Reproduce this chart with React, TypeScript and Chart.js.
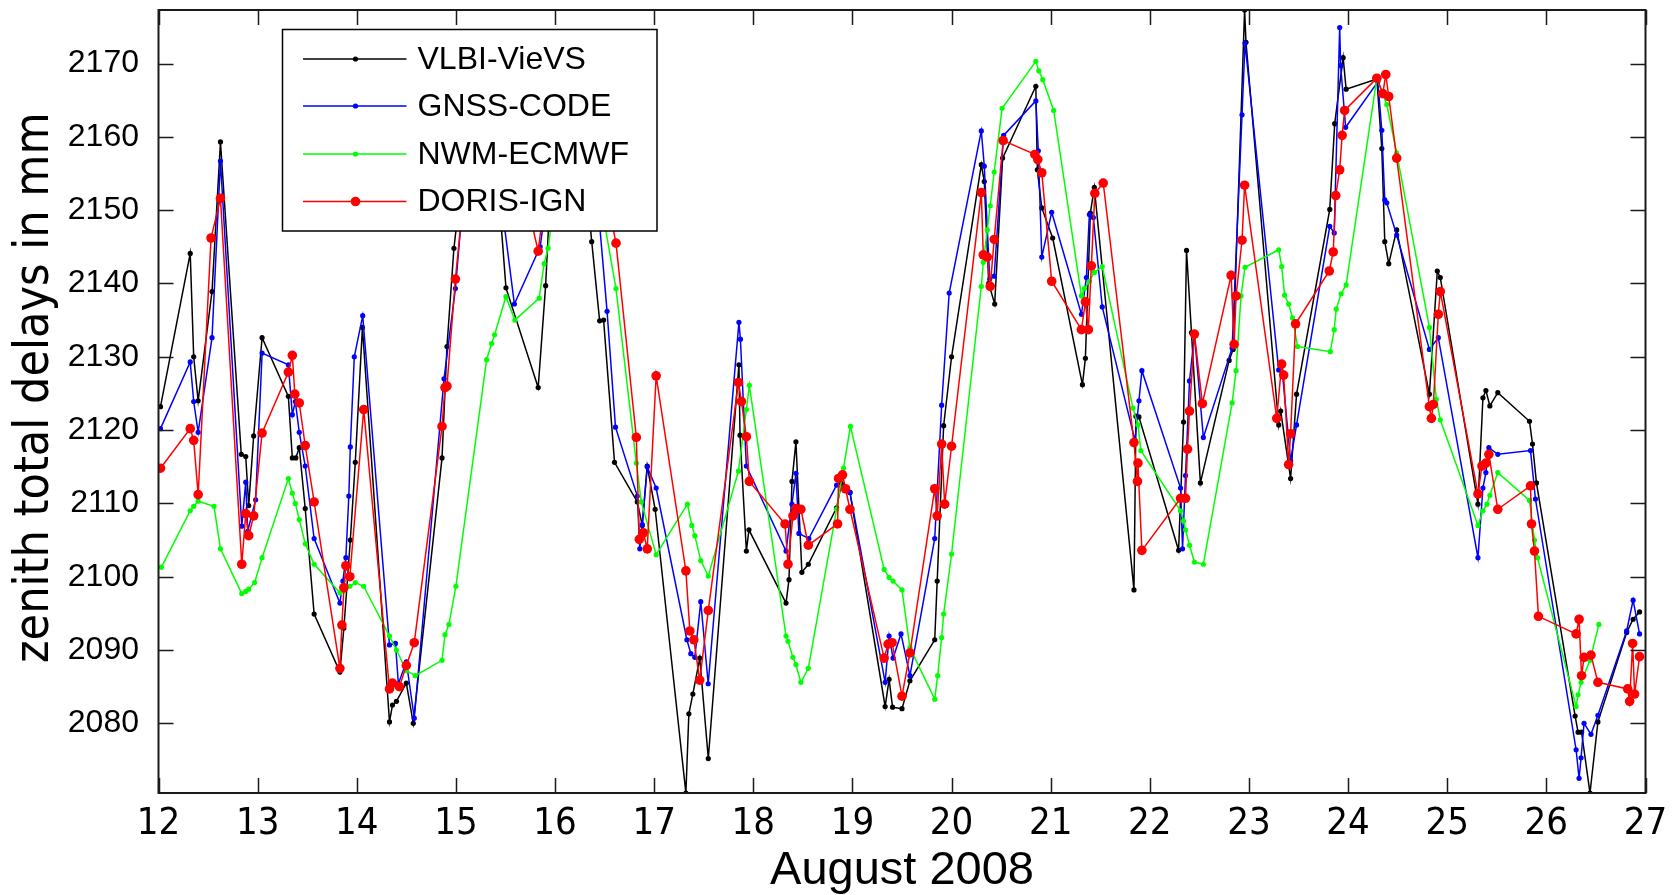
import { useEffect, useRef } from 'react';
import { Chart, registerables } from 'chart.js';

Chart.register(...registerables);

// ---------- data ----------
const xTickValues = [12, 13, 14, 15, 16, 17, 18, 19, 20, 21, 22, 23, 24, 25, 26, 27];
const yTickValues = [2080, 2090, 2100, 2110, 2120, 2130, 2140, 2150, 2160, 2170];
const xTitle = 'August 2008';
const yTitle = 'zenith total delays in mm';
const seriesNames = ['VLBI-VieVS', 'GNSS-CODE', 'NWM-ECMWF', 'DORIS-IGN'];

const vlbiDays = [12.02, 12.32, 12.355, 12.4, 12.54, 12.625, 12.835, 12.88, 12.91, 12.96, 13.045, 13.31, 13.35, 13.385, 13.42, 13.48, 13.57, 13.83, 13.87, 13.935, 13.985, 14.057, 14.33, 14.36, 14.4, 14.5, 14.57, 14.86, 14.91, 14.98, 15.05, 15.2, 15.4, 15.505, 15.83, 15.905, 15.95, 16.1, 16.3, 16.37, 16.45, 16.49, 16.6, 16.83, 16.88, 16.93, 17.01, 17.32, 17.35, 17.39, 17.46, 17.546, 17.855, 17.866, 17.93, 17.956, 18.33, 18.36, 18.39, 18.43, 18.49, 18.555, 18.84, 18.89, 18.975, 19.33, 19.37, 19.405, 19.5, 19.58, 19.83, 19.855, 19.92, 20.0, 20.3, 20.33, 20.375, 20.435, 20.515, 20.85, 20.865, 20.91, 21.02, 21.32, 21.35, 21.4, 21.44, 21.84, 21.86, 21.89, 22.29, 22.34, 22.37, 22.42, 22.51, 22.8, 22.84, 22.956, 22.97, 23.3, 23.32, 23.42, 23.48, 23.815, 23.865, 23.95, 23.98, 24.29, 24.34, 24.37, 24.41, 24.49, 24.82, 24.9, 24.93, 25.31, 25.36, 25.39, 25.43, 25.51, 25.83, 25.86, 25.9, 26.29, 26.32, 26.355, 26.44, 26.52, 26.81, 26.875, 26.94];
const vlbiZtd = [2123.2, 2144.1, 2130, 2124, 2138.9, 2159.3, 2116.7, 2116.4, 2109.7, 2119.2, 2132.6, 2124.6, 2116.2, 2116.2, 2117.6, 2109.3, 2094.9, 2087.0, 2093, 2105, 2115.6, 2134, 2080.2, 2082.5, 2083, 2085.5, 2080.0, 2116.2, 2131.4, 2144.8, 2153, 2162, 2158, 2139.4, 2125.8, 2139.7, 2152, 2163, 2156, 2145.7, 2134.9, 2135, 2115.6, 2110.2, 2107, 2115.1, 2109.2, 2070.5, 2081.3, 2084, 2088.9, 2075.2, 2128.9, 2119.3, 2103.5, 2106.4, 2096.4, 2099.6, 2113, 2118.4, 2100.6, 2101.7, 2109.4, 2112.7, 2111.5, 2082.3, 2086, 2082.2, 2082, 2085.8, 2091.4, 2099.4, 2120.6, 2130, 2156.2, 2153.9, 2140, 2137.2, 2157.1, 2166.9, 2155.5, 2150.3, 2146.2, 2126.2, 2129.8, 2149.6, 2153.1, 2098.2, 2121.9, 2121.8, 2103.6, 2121.1, 2144.5, 2133.3, 2112.8, 2129.5, 2131, 2177.3, 2172.9, 2120.7, 2122.6, 2113.4, 2124.9, 2150.1, 2161.8, 2170.8, 2166.5, 2167.9, 2158.4, 2145.7, 2142.7, 2147.3, 2124.9, 2141.7, 2140.8, 2109.9, 2124.4, 2125.4, 2123.3, 2125.1, 2121.2, 2118.1, 2112.8, 2081, 2078.8, 2078.8, 2070.5, 2080.2, 2092.4, 2094.2, 2095.2];

const gnssDays = [12.02, 12.32, 12.355, 12.4, 12.54, 12.625, 12.84, 12.88, 12.9, 12.98, 13.045, 13.31, 13.35, 13.38, 13.42, 13.48, 13.57, 13.83, 13.86, 13.89, 13.92, 13.935, 13.975, 14.06, 14.33, 14.39, 14.42, 14.5, 14.58, 14.88, 14.995, 15.1, 15.3, 15.45, 15.59, 15.85, 15.92, 16.1, 16.35, 16.45, 16.525, 16.61, 16.83, 16.855, 16.88, 16.93, 17.02, 17.33, 17.37, 17.41, 17.47, 17.545, 17.855, 17.87, 17.93, 18.33, 18.39, 18.43, 18.46, 18.56, 18.84, 18.975, 19.33, 19.37, 19.41, 19.49, 19.58, 19.83, 19.9, 19.976, 20.3, 20.33, 20.385, 20.43, 20.525, 20.85, 20.875, 20.91, 21.01, 21.31, 21.36, 21.39, 21.43, 21.52, 21.85, 21.89, 21.92, 22.31, 22.33, 22.36, 22.4, 22.45, 22.54, 22.83, 22.93, 22.96, 23.3, 23.34, 23.42, 23.48, 23.815, 23.86, 23.915, 23.925, 23.975, 24.3, 24.34, 24.37, 24.39, 24.49, 24.82, 24.91, 25.31, 25.36, 25.39, 25.42, 25.51, 25.84, 25.89, 26.3, 26.33, 26.35, 26.38, 26.45, 26.52, 26.81, 26.875, 26.94];
const gnssZtd = [2120.2, 2129.3, 2123.9, 2119.7, 2132.6, 2156.7, 2106.9, 2112.9, 2106.2, 2110.5, 2130.5, 2128.9, 2122.1, 2123.9, 2119.7, 2115.1, 2105.2, 2096.4, 2099.4, 2102.6, 2111, 2117.7, 2130, 2135.6, 2090.7, 2090.9, 2085.4, 2088.4, 2080.7, 2127, 2139.3, 2156, 2160, 2152, 2137.2, 2145, 2152, 2160, 2155, 2148, 2136.2, 2120.4, 2111, 2103.8, 2107.1, 2115, 2112.1, 2091.4, 2089.5, 2089, 2096.6, 2085.4, 2134.7, 2132.4, 2115.1, 2103.5, 2109.9, 2114.1, 2105.9, 2105.2, 2112.5, 2111.5, 2085.6, 2091.9, 2088.9, 2092.2, 2086.5, 2105.2, 2123.4, 2138.7, 2160.8, 2156, 2140.6, 2141, 2160.2, 2164.9, 2158.1, 2143.6, 2149.7, 2135.8, 2140.8, 2149.4, 2149, 2136.8, 2118.6, 2124, 2128.1, 2112.1, 2103.8, 2113.8, 2126.7, 2133, 2119, 2131.2, 2163, 2172.8, 2128.2, 2127.4, 2115.8, 2120.7, 2147.8, 2146.9, 2174.9, 2169.7, 2161.3, 2167.5, 2160.9, 2151.4, 2151, 2146.6, 2131, 2132.6, 2102.6, 2112.1, 2114.2, 2117.6, 2116.7, 2117.2, 2110.6, 2076.4, 2072.5, 2075.3, 2080, 2078.5, 2081.1, 2092.6, 2096.8, 2092.2];

const nwmDays = [12.03, 12.32, 12.355, 12.4, 12.56, 12.625, 12.84, 12.88, 12.91, 12.97, 13.045, 13.31, 13.35, 13.38, 13.42, 13.48, 13.57, 13.83, 13.87, 13.93, 13.985, 14.07, 14.33, 14.4, 14.5, 14.59, 14.86, 14.89, 14.93, 15.0, 15.31, 15.36, 15.39, 15.505, 15.595, 15.84, 15.89, 15.93, 16.0, 16.2, 16.45, 16.615, 16.82, 16.87, 17.02, 17.335, 17.38, 17.41, 17.47, 17.546, 17.85, 17.93, 17.96, 18.33, 18.35, 18.4, 18.43, 18.48, 18.555, 18.84, 18.91, 18.98, 19.32, 19.37, 19.41, 19.5, 19.58, 19.83, 19.86, 19.9, 19.92, 20.0, 20.3, 20.32, 20.36, 20.39, 20.43, 20.51, 20.85, 20.88, 20.92, 21.03, 21.31, 21.34, 21.39, 21.44, 21.52, 21.83, 21.88, 21.91, 22.31, 22.34, 22.36, 22.4, 22.45, 22.54, 22.83, 22.87, 22.92, 22.96, 23.3, 23.33, 23.36, 23.4, 23.44, 23.49, 23.82, 23.86, 23.88, 23.93, 23.98, 24.29, 24.39, 24.49, 24.82, 24.89, 24.93, 25.31, 25.36, 25.4, 25.43, 25.51, 25.83, 25.88, 25.91, 26.3, 26.32, 26.35, 26.44, 26.53];
const nwmZtd = [2101.3, 2109, 2109.6, 2110.3, 2109.6, 2103.8, 2097.7, 2098, 2098.3, 2099.2, 2102.6, 2113.4, 2111.4, 2110, 2107.8, 2104.5, 2101.7, 2097.8, 2098.1, 2098.7, 2099.2, 2098.7, 2091.9, 2090, 2087.2, 2086.5, 2088.6, 2092.1, 2093.5, 2098.7, 2129.6, 2131.8, 2133, 2138.2, 2135, 2138, 2142.7, 2144.8, 2152, 2158, 2152, 2139.3, 2115.5, 2110.2, 2103, 2109.9, 2107, 2105.6, 2102.2, 2100.1, 2114.4, 2122.8, 2126.1, 2091.9, 2091.2, 2089, 2088, 2085.6, 2087.5, 2109.2, 2114.8, 2120.5, 2101, 2099.9, 2099.4, 2098.2, 2090.3, 2083.3, 2086.5, 2091.7, 2094.9, 2103.1, 2139.6, 2142.9, 2147.3, 2150.6, 2155.2, 2163.9, 2170.3, 2169, 2167.8, 2163.6, 2138.3, 2139.3, 2140.3, 2141.5, 2142.3, 2123, 2120.7, 2117.2, 2109, 2107.6, 2106.4, 2104.3, 2102, 2101.7, 2123.7, 2128.1, 2138.3, 2142.2, 2144.6, 2142.3, 2138.4, 2137.2, 2135.3, 2131.4, 2130.7, 2133.7, 2136.5, 2138.6, 2139.8, 2168, 2164.4, 2157.8, 2134, 2124.2, 2121.4, 2107, 2109, 2109.9, 2111.1, 2114.2, 2110.4, 2105, 2102.6, 2082.3, 2083.9, 2085.6, 2088.6, 2093.5];

const dorisDays = [12.02, 12.32, 12.355, 12.4, 12.53, 12.625, 12.84, 12.88, 12.91, 12.96, 13.045, 13.31, 13.35, 13.375, 13.42, 13.48, 13.57, 13.83, 13.85, 13.87, 13.89, 13.93, 14.07, 14.33, 14.36, 14.43, 14.5, 14.58, 14.86, 14.89, 14.91, 14.995, 15.1, 15.3, 15.6, 15.83, 15.9, 16.1, 16.4, 16.615, 16.82, 16.85, 16.89, 16.93, 17.02, 17.32, 17.36, 17.4, 17.46, 17.546, 17.85, 17.88, 17.93, 17.96, 18.32, 18.35, 18.4, 18.43, 18.48, 18.555, 18.85, 18.86, 18.9, 18.93, 18.975, 19.32, 19.36, 19.4, 19.5, 19.58, 19.83, 19.855, 19.9, 19.93, 20.0, 20.3, 20.32, 20.36, 20.39, 20.43, 20.52, 20.84, 20.87, 20.91, 21.01, 21.31, 21.35, 21.38, 21.41, 21.445, 21.53, 21.84, 21.875, 21.88, 21.92, 22.31, 22.36, 22.38, 22.4, 22.45, 22.53, 22.82, 22.85, 22.87, 22.93, 22.956, 23.28, 23.33, 23.35, 23.4, 23.42, 23.47, 23.81, 23.85, 23.875, 23.915, 23.94, 23.965, 24.29, 24.35, 24.38, 24.41, 24.49, 24.82, 24.84, 24.86, 24.91, 24.93, 25.31, 25.35, 25.39, 25.42, 25.51, 25.84, 25.85, 25.88, 25.92, 26.3, 26.33, 26.355, 26.38, 26.45, 26.52, 26.82, 26.84, 26.87, 26.89, 26.94];
const dorisZtd = [2114.8, 2120.2, 2118.6, 2111.2, 2146.2, 2151.6, 2101.7, 2108.6, 2105.6, 2108.3, 2119.6, 2127.9, 2130.2, 2124.9, 2123.7, 2117.9, 2110.2, 2087.5, 2093.4, 2098.5, 2101.5, 2100, 2122.8, 2084.7, 2085.5, 2085, 2087.9, 2091, 2120.5, 2125.8, 2126, 2140.6, 2155, 2162, 2158, 2144.4, 2152, 2162, 2160, 2145.5, 2119, 2105.1, 2106, 2103.8, 2127.4, 2100.8, 2092.6, 2091.4, 2085.9, 2095.4, 2126.5, 2123.9, 2119.1, 2113, 2107.2, 2101.7, 2108.3, 2109.3, 2109.2, 2104.3, 2107.2, 2113.4, 2113.9, 2112, 2109.2, 2088.9, 2090.8, 2091, 2083.7, 2089.6, 2112, 2108.3, 2118.1, 2109.9, 2117.8, 2152.4, 2143.9, 2143.6, 2139.6, 2146, 2159.5, 2157.6, 2156.9, 2155.1, 2140.3, 2133.7, 2137.5, 2133.7, 2142.4, 2152.3, 2153.7, 2118.3, 2113, 2115.5, 2103.6, 2110.7, 2110.7, 2117.4, 2122.6, 2133.1, 2123.6, 2141.1, 2131.7, 2138.3, 2145.9, 2153.4, 2121.6, 2129, 2127.5, 2115.3, 2119.5, 2134.5, 2141.7, 2144.3, 2152, 2155.5, 2160.2, 2163.6, 2168, 2165.9, 2168.5, 2165.5, 2157.1, 2123.2, 2121.6, 2123.5, 2135.8, 2138.9, 2111.3, 2115.1, 2115.5, 2116.7, 2109.2, 2112.4, 2107.2, 2103.5, 2094.6, 2092.2, 2094.2, 2086.5, 2089, 2089.3, 2085.6, 2084.7, 2083, 2090.9, 2084, 2089.1];

// ---------- styles ----------
const seriesColors = ['#000000', '#0000ff', '#00ff00', '#ff0000'];
const seriesPointRadius = [2.6, 2.6, 2.6, 4.8];
const FONT = "'Liberation Sans', Arial, Helvetica, sans-serif";
const NARROW = "'Liberation Sans Narrow', 'Arial Narrow', 'DejaVu Sans Condensed', 'Liberation Sans', sans-serif";

const toPoints = (days: number[], vals: number[]) => days.map((d, i) => ({ x: d, y: vals[i] }));

const framePlugin = {
  id: 'frameAndLegend',
  afterDraw(chart: any) {
    const ctx = chart.ctx as CanvasRenderingContext2D;
    const a = chart.chartArea;
    const xs = chart.scales.x;
    const ys = chart.scales.y;
    ctx.save();
    // inward tick marks
    ctx.strokeStyle = '#1a1a1a';
    ctx.lineWidth = 1.5;
    const tl = 15;
    ctx.beginPath();
    xTickValues.forEach((v) => {
      const px = Math.round(xs.getPixelForValue(v)) + 0.5;
      ctx.moveTo(px, a.bottom); ctx.lineTo(px, a.bottom - tl);
      ctx.moveTo(px, a.top); ctx.lineTo(px, a.top + tl);
    });
    yTickValues.forEach((v) => {
      const py = Math.round(ys.getPixelForValue(v)) + 0.5;
      ctx.moveTo(a.left, py); ctx.lineTo(a.left + tl, py);
      ctx.moveTo(a.right, py); ctx.lineTo(a.right - tl, py);
    });
    ctx.stroke();
    // frame
    ctx.lineWidth = 2;
    ctx.strokeRect(a.left, a.top, a.right - a.left, a.bottom - a.top);

    // legend box
    const bx = a.left + 124;
    const by = a.top + 19.5;
    const bw = 374.5;
    const bh = 201.5;
    ctx.fillStyle = '#ffffff';
    ctx.fillRect(bx, by, bw, bh);
    ctx.strokeStyle = '#000000';
    ctx.lineWidth = 1.5;
    ctx.strokeRect(bx, by, bw, bh);
    const rowY = [29.5, 76.5, 124.5, 172];
    seriesNames.forEach((name, i) => {
      const y = by + rowY[i];
      ctx.strokeStyle = seriesColors[i];
      ctx.lineWidth = 1.5;
      ctx.beginPath();
      ctx.moveTo(bx + 20.5, y); ctx.lineTo(bx + 124, y);
      ctx.stroke();
      ctx.fillStyle = seriesColors[i];
      ctx.beginPath();
      ctx.arc(bx + 73, y, seriesPointRadius[i], 0, Math.PI * 2);
      ctx.fill();
      ctx.fillStyle = '#000000';
      ctx.font = `32px ${FONT}`;
      ctx.textBaseline = 'middle';
      ctx.textAlign = 'left';
      ctx.fillText(name, bx + 135, y + 1);
    });
    ctx.restore();
  },
};

export default function App() {
  const canvasRef = useRef<HTMLCanvasElement | null>(null);

  useEffect(() => {
    const canvas = canvasRef.current;
    if (!canvas) return;
    const series = [
      toPoints(vlbiDays, vlbiZtd),
      toPoints(gnssDays, gnssZtd),
      toPoints(nwmDays, nwmZtd),
      toPoints(dorisDays, dorisZtd),
    ];
    const chart = new Chart(canvas, {
      type: 'line',
      data: {
        datasets: series.map((pts, i) => ({
          label: seriesNames[i],
          data: pts,
          borderColor: seriesColors[i],
          backgroundColor: seriesColors[i],
          pointBackgroundColor: seriesColors[i],
          pointBorderWidth: 0,
          pointRadius: seriesPointRadius[i],
          borderWidth: 1.5,
          tension: 0,
          fill: false,
          order: 3 - i,
        })),
      },
      options: {
        animation: false,
        responsive: false,
        maintainAspectRatio: false,
        events: [],
        layout: { padding: { left: 0, top: 10, right: 29.5, bottom: 0 } },
        plugins: {
          legend: { display: false },
          tooltip: { enabled: false },
          title: { display: false },
        },
        scales: {
          x: {
            type: 'linear',
            min: 12,
            max: 27,
            grid: { display: false, drawTicks: false },
            border: { display: false },
            ticks: {
              color: '#000',
              padding: 8,
              maxRotation: 0,
              autoSkip: false,
              font: { family: NARROW, size: 38 },
              callback: (v: any) => String(v),
            },
            title: {
              display: true,
              text: xTitle,
              color: '#000',
              font: { family: FONT, size: 47, lineHeight: 1 },
              padding: { top: 0, bottom: 0 },
            },
            afterBuildTicks: (s: any) => { s.ticks = xTickValues.map((v) => ({ value: v })); },
            afterFit: (s: any) => {
              s.height = 102;
              s.paddingLeft = 0; s.paddingRight = 0; s.paddingTop = 0; s.paddingBottom = 0;
            },
          },
          y: {
            type: 'linear',
            min: 2070.5,
            max: 2177.3,
            grid: { display: false, drawTicks: false },
            border: { display: false },
            ticks: {
              color: '#000',
              padding: 19.5,
              font: { family: FONT, size: 32 },
              callback: (v: any) => String(v),
            },
            title: {
              display: true,
              text: '  ' + yTitle,
              color: '#000',
              font: { family: NARROW, size: 48, lineHeight: 1 },
              padding: { top: 12, bottom: 0 },
            },
            afterBuildTicks: (s: any) => { s.ticks = yTickValues.map((v) => ({ value: v })); },
            afterFit: (s: any) => {
              s.width = 158.5;
              s.paddingLeft = 0; s.paddingRight = 0; s.paddingTop = 0; s.paddingBottom = 0;
            },
          },
        },
      },
      plugins: [framePlugin],
    });
    return () => chart.destroy();
  }, []);

  return (
    <div style={{ position: 'absolute', left: 0, top: 0, width: 1675, height: 895, background: '#fff' }}>
      <canvas ref={canvasRef} width={1675} height={895} style={{ display: 'block' }} />
    </div>
  );
}
